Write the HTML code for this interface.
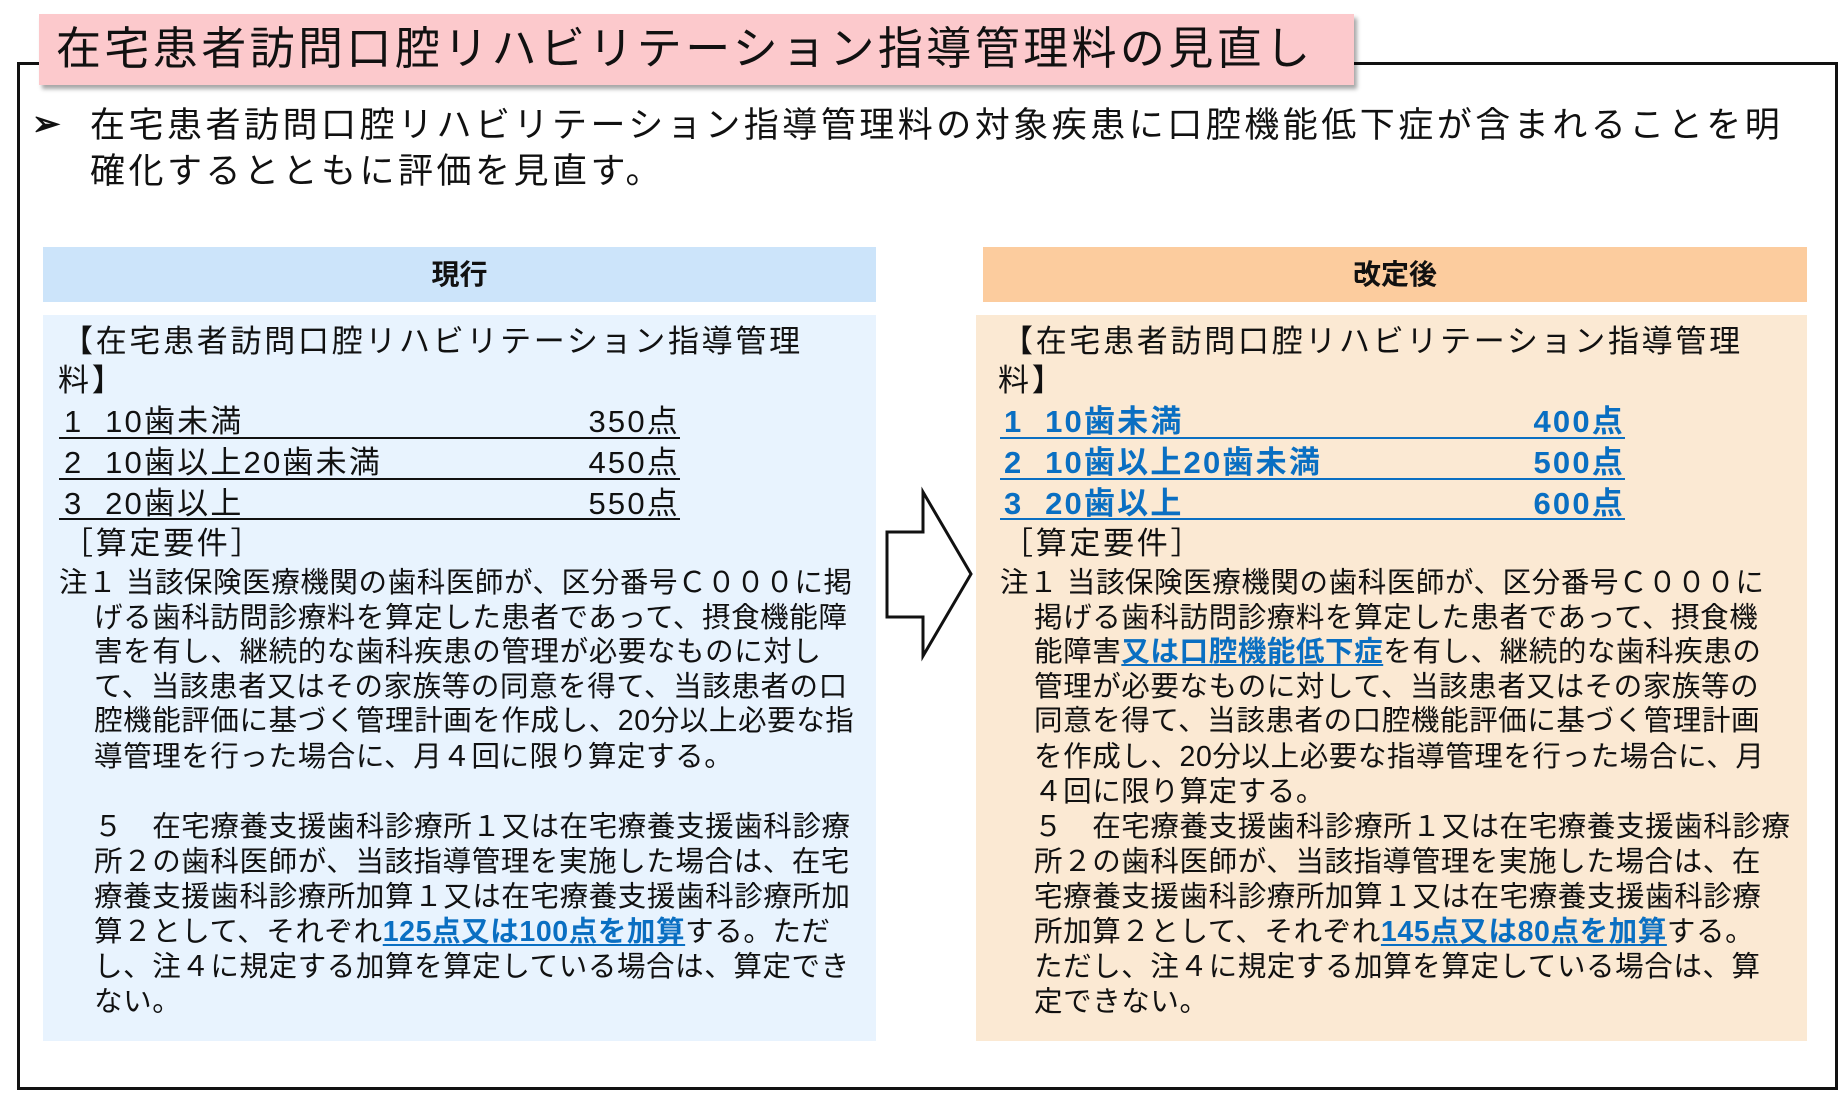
<!DOCTYPE html>
<html><head><meta charset="utf-8"><style>
body{margin:0;width:1848px;height:1100px;background:#fff;position:relative;overflow:hidden;font-family:"Liberation Sans","Noto Sans CJK JP",sans-serif;color:#111}
.a{position:absolute;white-space:nowrap}
.t{font-size:28.5px;letter-spacing:0.6px;line-height:40px}
.h{font-size:31px;letter-spacing:2.7px;line-height:40px}
.b{color:#0a6fc2;font-weight:bold;text-decoration:underline;text-decoration-thickness:2px;text-underline-offset:3px}
.ul{position:absolute;height:2px;background:#111}
.bl{background:#0a6fc2}
.n{font-size:31px;line-height:40px;position:absolute;white-space:nowrap;letter-spacing:2.2px}
.p{text-align:right;width:200px}
.bb{color:#0a6fc2;font-weight:bold}
</style></head><body>
<div class="a" style="left:17px;top:62px;width:1815px;height:1022px;border:3px solid #111"></div>
<div class="a" style="left:39px;top:14px;width:1315px;height:71px;background:#fcc9cc;box-shadow:3px 4px 4px rgba(0,0,0,0.35)"></div>
<div class="a" style="left:56px;top:20px;font-size:45px;letter-spacing:3.4px;line-height:58px">在宅患者訪問口腔リハビリテーション指導管理料の見直し</div>
<div class="a" style="left:32px;top:102px;font-size:34px;line-height:44px;font-weight:bold">➢</div>
<div class="a" style="left:90px;top:104px;font-size:35px;letter-spacing:3.5px;line-height:44px">在宅患者訪問口腔リハビリテーション指導管理料の対象疾患に口腔機能低下症が含まれることを明</div>
<div class="a" style="left:90px;top:150px;font-size:35px;letter-spacing:3.5px;line-height:44px">確化するとともに評価を見直す。</div>

<div class="a" style="left:43px;top:247px;width:833px;height:55px;background:#cce4fa;text-align:center;font-weight:bold;font-size:28px;line-height:55px">現行</div>
<div class="a" style="left:983px;top:247px;width:824px;height:55px;background:#fccc9e;text-align:center;font-weight:bold;font-size:28px;line-height:55px">改定後</div>
<div class="a" style="left:43px;top:315px;width:833px;height:726px;background:#e8f3fe"></div>
<div class="a" style="left:976px;top:315px;width:831px;height:726px;background:#fbe9d3"></div>

<svg class="a" style="left:0;top:0" width="1848" height="1100"><polygon points="887,532 923,532 923,492 971,574 923,656 923,617 887,617" fill="#fff" stroke="#111" stroke-width="3"/></svg>

<!-- left -->
<div class="a h" style="left:62px;top:322px">【在宅患者訪問口腔リハビリテーション指導管理</div>
<div class="a h" style="left:58px;top:361px">料】</div>
<div class="n" style="left:64px;top:402px">1&nbsp; 10歯未満</div><div class="n p" style="left:480px;top:402px">350点</div>
<div class="ul" style="left:59px;top:437px;width:621px"></div>
<div class="n" style="left:64px;top:443px">2&nbsp; 10歯以上20歯未満</div><div class="n p" style="left:480px;top:443px">450点</div>
<div class="ul" style="left:59px;top:478px;width:621px"></div>
<div class="n" style="left:64px;top:484px">3&nbsp; 20歯以上</div><div class="n p" style="left:480px;top:484px">550点</div>
<div class="ul" style="left:59px;top:518px;width:621px"></div>
<div class="a h" style="left:62px;top:524px">［算定要件］</div>
<div class="a t" style="left:59px;top:563px">注１ 当該保険医療機関の歯科医師が、区分番号Ｃ０００に掲</div>
<div class="a t" style="left:94px;top:598px">げる歯科訪問診療料を算定した患者であって、摂食機能障</div>
<div class="a t" style="left:94px;top:632px">害を有し、継続的な歯科疾患の管理が必要なものに対し</div>
<div class="a t" style="left:94px;top:667px">て、当該患者又はその家族等の同意を得て、当該患者の口</div>
<div class="a t" style="left:94px;top:701px">腔機能評価に基づく管理計画を作成し、20分以上必要な指</div>
<div class="a t" style="left:94px;top:737px">導管理を行った場合に、月４回に限り算定する。</div>
<div class="a t" style="left:94px;top:807px">５　在宅療養支援歯科診療所１又は在宅療養支援歯科診療</div>
<div class="a t" style="left:94px;top:842px">所２の歯科医師が、当該指導管理を実施した場合は、在宅</div>
<div class="a t" style="left:94px;top:877px">療養支援歯科診療所加算１又は在宅療養支援歯科診療所加</div>
<div class="a t" style="left:94px;top:912px">算２として、それぞれ<span class="b">125点又は100点を加算</span>する。ただ</div>
<div class="a t" style="left:94px;top:947px">し、注４に規定する加算を算定している場合は、算定でき</div>
<div class="a t" style="left:94px;top:982px">ない。</div>

<!-- right -->
<div class="a h" style="left:1002px;top:322px">【在宅患者訪問口腔リハビリテーション指導管理</div>
<div class="a h" style="left:998px;top:361px">料】</div>
<div class="n bb" style="left:1004px;top:402px">1&nbsp; 10歯未満</div><div class="n p bb" style="left:1425px;top:402px">400点</div>
<div class="ul bl" style="left:1000px;top:437px;width:625px"></div>
<div class="n bb" style="left:1004px;top:443px">2&nbsp; 10歯以上20歯未満</div><div class="n p bb" style="left:1425px;top:443px">500点</div>
<div class="ul bl" style="left:1000px;top:478px;width:625px"></div>
<div class="n bb" style="left:1004px;top:484px">3&nbsp; 20歯以上</div><div class="n p bb" style="left:1425px;top:484px">600点</div>
<div class="ul bl" style="left:1000px;top:518px;width:625px"></div>
<div class="a h" style="left:1002px;top:524px">［算定要件］</div>
<div class="a t" style="left:1000px;top:563px">注１ 当該保険医療機関の歯科医師が、区分番号Ｃ０００に</div>
<div class="a t" style="left:1034px;top:598px">掲げる歯科訪問診療料を算定した患者であって、摂食機</div>
<div class="a t" style="left:1034px;top:632px">能障害<span class="b">又は口腔機能低下症</span>を有し、継続的な歯科疾患の</div>
<div class="a t" style="left:1034px;top:667px">管理が必要なものに対して、当該患者又はその家族等の</div>
<div class="a t" style="left:1034px;top:701px">同意を得て、当該患者の口腔機能評価に基づく管理計画</div>
<div class="a t" style="left:1034px;top:737px">を作成し、20分以上必要な指導管理を行った場合に、月</div>
<div class="a t" style="left:1034px;top:772px">４回に限り算定する。</div>
<div class="a t" style="left:1034px;top:807px">５　在宅療養支援歯科診療所１又は在宅療養支援歯科診療</div>
<div class="a t" style="left:1034px;top:842px">所２の歯科医師が、当該指導管理を実施した場合は、在</div>
<div class="a t" style="left:1034px;top:877px">宅療養支援歯科診療所加算１又は在宅療養支援歯科診療</div>
<div class="a t" style="left:1034px;top:912px">所加算２として、それぞれ<span class="b">145点又は80点を加算</span>する。</div>
<div class="a t" style="left:1034px;top:947px">ただし、注４に規定する加算を算定している場合は、算</div>
<div class="a t" style="left:1034px;top:982px">定できない。</div>
</body></html>
